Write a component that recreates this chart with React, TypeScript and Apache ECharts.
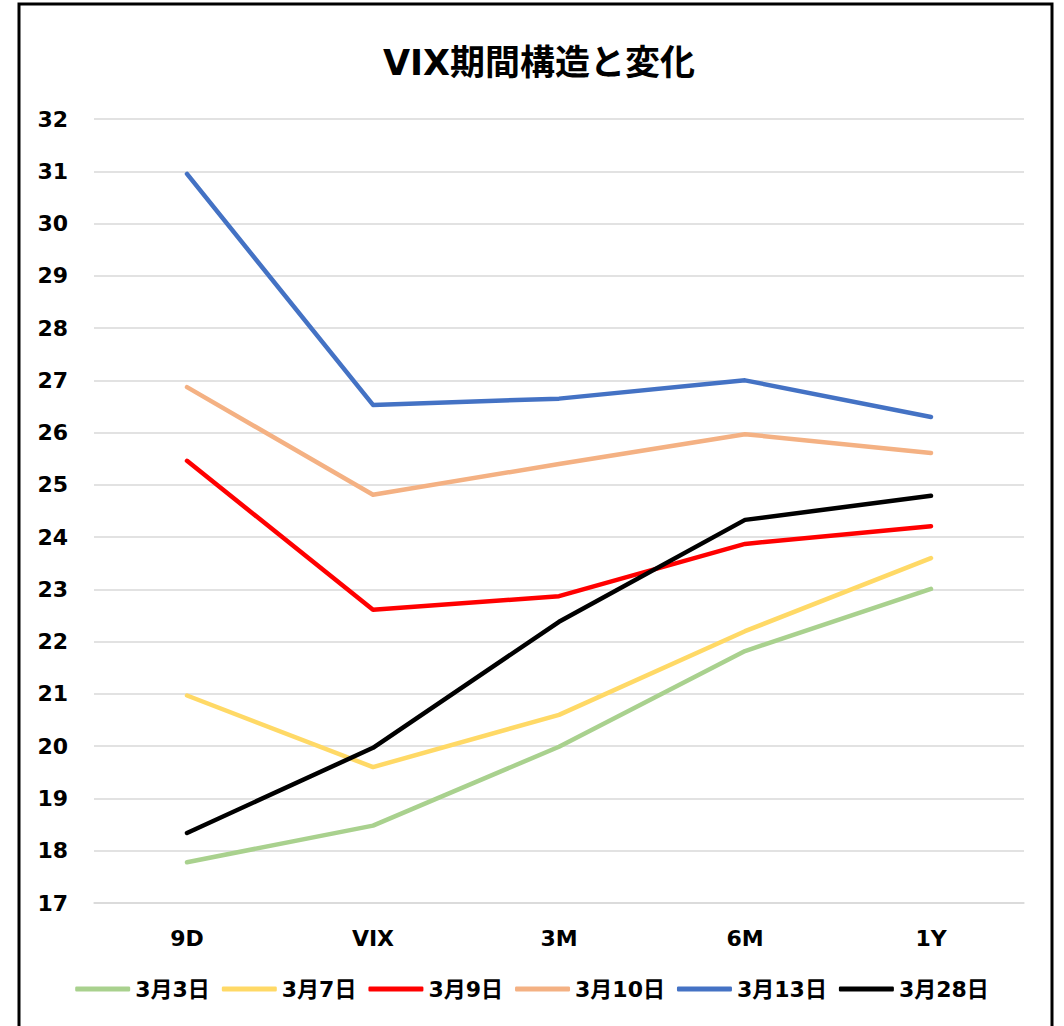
import React, { useEffect, useRef } from "react";
import * as echarts from "echarts";

const categories = ["9D", "VIX", "3M", "6M", "1Y"];
const seriesNames = ["3月3日", "3月7日", "3月9日", "3月10日", "3月13日", "3月28日"];
const mar3 = [17.78, 18.48, 19.99, 21.82, 23.01];
const mar7 = [20.97, 19.6, 20.6, 22.2, 23.6];
const mar9 = [25.46, 22.61, 22.87, 23.87, 24.21];
const mar10 = [26.87, 24.81, 25.4, 25.97, 25.61];
const mar13 = [30.95, 26.53, 26.65, 27.0, 26.3];
const mar28 = [18.34, 19.97, 22.38, 24.33, 24.79];
const colors = ["#A9D18E", "#FFD966", "#FF0000", "#F4B183", "#4472C4", "#000000"];

const FONT = "'DejaVu Sans', 'Noto Sans CJK JP', sans-serif";

export default function App() {
  const ref = useRef<HTMLDivElement>(null);
  useEffect(() => {
    const chart = echarts.init(ref.current!, null, { renderer: "svg" });
    const data = [mar3, mar7, mar9, mar10, mar13, mar28];
    chart.setOption({
      animation: false,
      backgroundColor: "#ffffff",
      title: {
        text: "VIX期間構造と変化",
        left: 534,
        textAlign: "center",
        top: 40,
        textStyle: { fontFamily: FONT, fontSize: 35, fontWeight: "bold", color: "#000" },
      },
      grid: { left: 94, right: 40, top: 119, bottom: 123, containLabel: false },
      legend: {
        bottom: 21,
        left: "center",
        icon: "roundRect",
        itemWidth: 55,
        itemHeight: 5,
        itemGap: 12,
        data: seriesNames,
        textStyle: { fontFamily: FONT, fontSize: 22, fontWeight: "bold", color: "#000" },
      },
      xAxis: {
        type: "category",
        data: categories,
        boundaryGap: true,
        axisLine: { show: true, lineStyle: { color: "#d9d9d9", width: 1.5 } },
        axisTick: { show: false },
        axisLabel: { margin: 24, fontFamily: FONT, fontSize: 22, fontWeight: "bold", color: "#000" },
      },
      yAxis: {
        type: "value",
        min: 17,
        max: 32,
        interval: 1,
        axisLine: { show: false },
        axisTick: { show: false },
        splitLine: { lineStyle: { color: "#d9d9d9", width: 1.5 } },
        axisLabel: { margin: 26, fontFamily: FONT, fontSize: 22, fontWeight: "bold", color: "#000" },
      },
      graphic: [
        {
          type: "rect",
          shape: { x: 19, y: 4, width: 1033, height: 1040 },
          style: { fill: "none", stroke: "#000", lineWidth: 3 },
          silent: true,
          z: 100,
        },
      ],
      series: seriesNames.map((name, i) => ({
        name,
        type: "line",
        data: data[i],
        symbol: "none",
        color: colors[i],
        lineStyle: { color: colors[i], width: 4.5, cap: "round", join: "round" },
        itemStyle: { color: colors[i] },
      })),
    });
    return () => chart.dispose();
  }, []);
  return (
    <div
      ref={ref}
      style={{ position: "fixed", left: 0, top: 0, width: 1064, height: 1026 }}
    />
  );
}
